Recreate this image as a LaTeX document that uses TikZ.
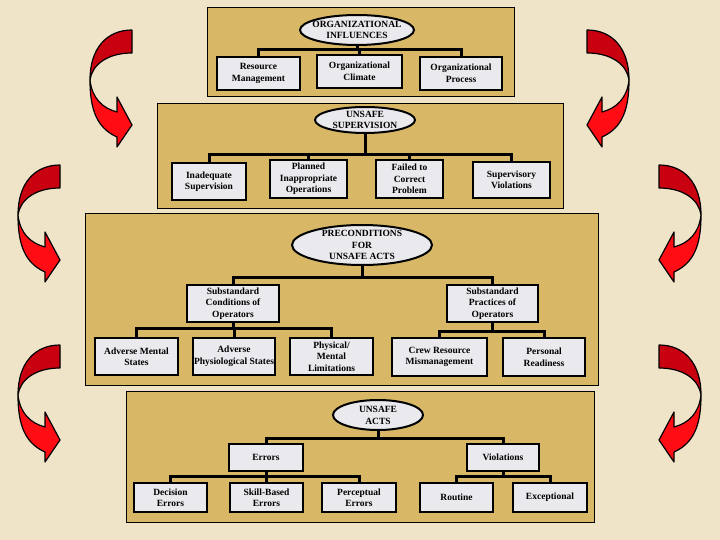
\documentclass[tikz,border=0pt]{standalone}
\usepackage{fontspec}
\setmainfont{Liberation Serif}
\usetikzlibrary{shapes.geometric}
\definecolor{parch}{RGB}{240,228,200}
\definecolor{gold}{RGB}{216,184,102}
\definecolor{boxg}{RGB}{233,233,238}
\definecolor{reddark}{RGB}{200,0,16}
\definecolor{redlight}{RGB}{255,12,20}
\begin{document}
\begin{tikzpicture}[x=1pt,y=-1pt]
\tikzset{
 hpanel/.style={draw=black, line width=0.8pt, fill=gold},
 hbox/.style={draw=black, line width=2.2pt, fill=boxg, inner sep=0pt, align=center,
   font=\fontsize{9.5}{11.5}\selectfont\bfseries},
 hoval/.style={ellipse, draw=black, line width=2pt, fill=boxg, inner sep=0pt},
 htext/.style={align=center, inner sep=0pt, font=\fontsize{9.5}{11.8}\selectfont\bfseries},
 hconn/.style={line width=3pt, draw=black},
 arrdark/.style={fill=reddark, draw=black, line width=1.2pt, line join=round},
 arrlight/.style={fill=redlight, draw=black, line width=1.2pt, line join=round},
 redarr/.pic={
   \path[arrlight] (-42,50) .. controls (-40,68) and (-30,78) .. (-15,82)
      -- (-15,67) -- (0,95) -- (-15,117) -- (-15,107)
      .. controls (-35,98) and (-42,80) .. (-42,50) -- cycle;
   \path[arrdark] (0,0) .. controls (-25,0) and (-42,18) .. (-42,50)
      .. controls (-40,35) and (-25,23) .. (0,23) -- cycle;
 }
}
\useasboundingbox (0,0) rectangle (720,540);
\fill[parch] (0,0) rectangle (720,540);

% curved arrows
\pic at (132,30) {redarr};
\pic at (60,165) {redarr};
\pic at (60,345) {redarr};
\pic[xscale=-1] at (587,30) {redarr};
\pic[xscale=-1] at (659,165) {redarr};
\pic[xscale=-1] at (659,345) {redarr};

% panels
\path[hpanel] (207,7) rectangle (514,96);
\path[hpanel] (157,103) rectangle (563,208);
\path[hpanel] (85,213) rectangle (598,385);
\path[hpanel] (126,391) rectangle (594,522);

% ---------- Organizational influences
\node[hoval, minimum width=114pt, minimum height=30pt] (o1) at (357,30) {};
\node[htext] (o1t) at (o1) {ORGANIZATIONAL\\INFLUENCES};
\node[hbox, minimum width=83pt, minimum height=33pt] (rm) at (258.5,73.5) {Resource\\Management};
\node[hbox, minimum width=85pt, minimum height=33pt] (oc) at (359.5,71.5) {Organizational\\Climate};
\node[hbox, minimum width=82pt, minimum height=33pt] (op) at (461,73.5) {Organizational\\Process};
\coordinate (j1) at (357,50);
\draw[hconn] (o1.south) -- (j1);
\draw[hconn] (rm.north) |- (j1) -| (op.north);
\draw[hconn] (oc.north) -- (oc.north |- j1);

% ---------- Unsafe supervision
\node[hoval, minimum width=100pt, minimum height=26pt] (o2) at (365,120) {};
\node[htext] (o2t) at (o2) {UNSAFE\\SUPERVISION};
\node[hbox, minimum width=74pt, minimum height=37pt] (is) at (209,181.5) {Inadequate\\Supervision};
\node[hbox, minimum width=77pt, minimum height=38pt] (pio) at (308.5,179) {Planned\\Inappropriate\\Operations};
\node[hbox, minimum width=67pt, minimum height=38pt] (fcp) at (409.5,179) {Failed to\\Correct\\Problem};
\node[hbox, minimum width=77pt, minimum height=36pt] (sv) at (511.5,180) {Supervisory\\Violations};
\coordinate (j2) at (365,155);
\draw[hconn] (o2.south) -- (j2);
\draw[hconn] (is.north) |- (j2) -| (sv.north);
\draw[hconn] (pio.north) -- (pio.north |- j2);
\draw[hconn] (fcp.north) -- (fcp.north |- j2);

% ---------- Preconditions
\node[hoval, minimum width=140pt, minimum height=40pt] (o3) at (362,245) {};
\node[htext] (o3t) at (o3) {PRECONDITIONS\\FOR\\UNSAFE ACTS};
\node[hbox, minimum width=92pt, minimum height=37pt] (scond) at (233,303.5) {Substandard\\Conditions of\\Operators};
\node[hbox, minimum width=91pt, minimum height=37pt] (sprac) at (492.5,303.5) {Substandard\\Practices of\\Operators};
\coordinate (j3) at (362,277);
\draw[hconn] (o3.south) -- (j3);
\draw[hconn] (scond.north) |- (j3) -| (sprac.north);

\node[hbox, minimum width=83pt, minimum height=37pt] (ams) at (136.5,356.5) {Adverse Mental\\States};
\node[hbox, minimum width=82pt, minimum height=37pt] (aps) at (234,356.5) {Adverse\\Physiological States};
\node[hbox, minimum width=83pt, minimum height=37pt] (pml) at (331.5,356.5) {Physical/\\Mental\\Limitations};
\coordinate (j3a) at (233,328);
\draw[hconn] (scond.south) -- (j3a);
\draw[hconn] (ams.north) |- (j3a) -| (pml.north);
\draw[hconn] (aps.north) -- (aps.north |- j3a);

\node[hbox, minimum width=95pt, minimum height=38pt] (crm) at (439.5,357) {Crew Resource\\Mismanagement};
\node[hbox, minimum width=82pt, minimum height=38pt] (pr) at (544,357) {Personal\\Readiness};
\coordinate (j3b) at (492.5,331);
\draw[hconn] (sprac.south) -- (j3b);
\draw[hconn] (crm.north) |- (j3b) -| (pr.north);

% ---------- Unsafe acts
\node[hoval, minimum width=90pt, minimum height=30pt] (o4) at (378,415) {};
\node[htext] (o4t) at (o4) {UNSAFE\\ACTS};
\node[hbox, minimum width=74pt, minimum height=27pt] (err) at (266,457.5) {Errors};
\node[hbox, minimum width=72pt, minimum height=27pt] (vio) at (503,457.5) {Violations};
\coordinate (j4) at (378,438);
\draw[hconn] (o4.south) -- (j4);
\draw[hconn] (err.north) |- (j4) -| (vio.north);

\node[hbox, minimum width=73pt, minimum height=29pt] (de) at (170.5,497.5) {Decision\\Errors};
\node[hbox, minimum width=73pt, minimum height=29pt] (sbe) at (266.5,497.5) {Skill-Based\\Errors};
\node[hbox, minimum width=74pt, minimum height=29pt] (pe) at (359,497.5) {Perceptual\\Errors};
\coordinate (j4a) at (266,476);
\draw[hconn] (err.south) -- (j4a);
\draw[hconn] (de.north) |- (j4a) -| (pe.north);
\draw[hconn] (sbe.north) -- (sbe.north |- j4a);

\node[hbox, minimum width=73pt, minimum height=29pt] (rou) at (456.5,497.5) {Routine};
\node[hbox, minimum width=74pt, minimum height=29pt] (exc) at (550,497.5) {Exceptional};
\coordinate (j4b) at (503,476);
\draw[hconn] (vio.south) -- (j4b);
\draw[hconn] (rou.north) |- (j4b) -| (exc.north);
\end{tikzpicture}
\end{document}
